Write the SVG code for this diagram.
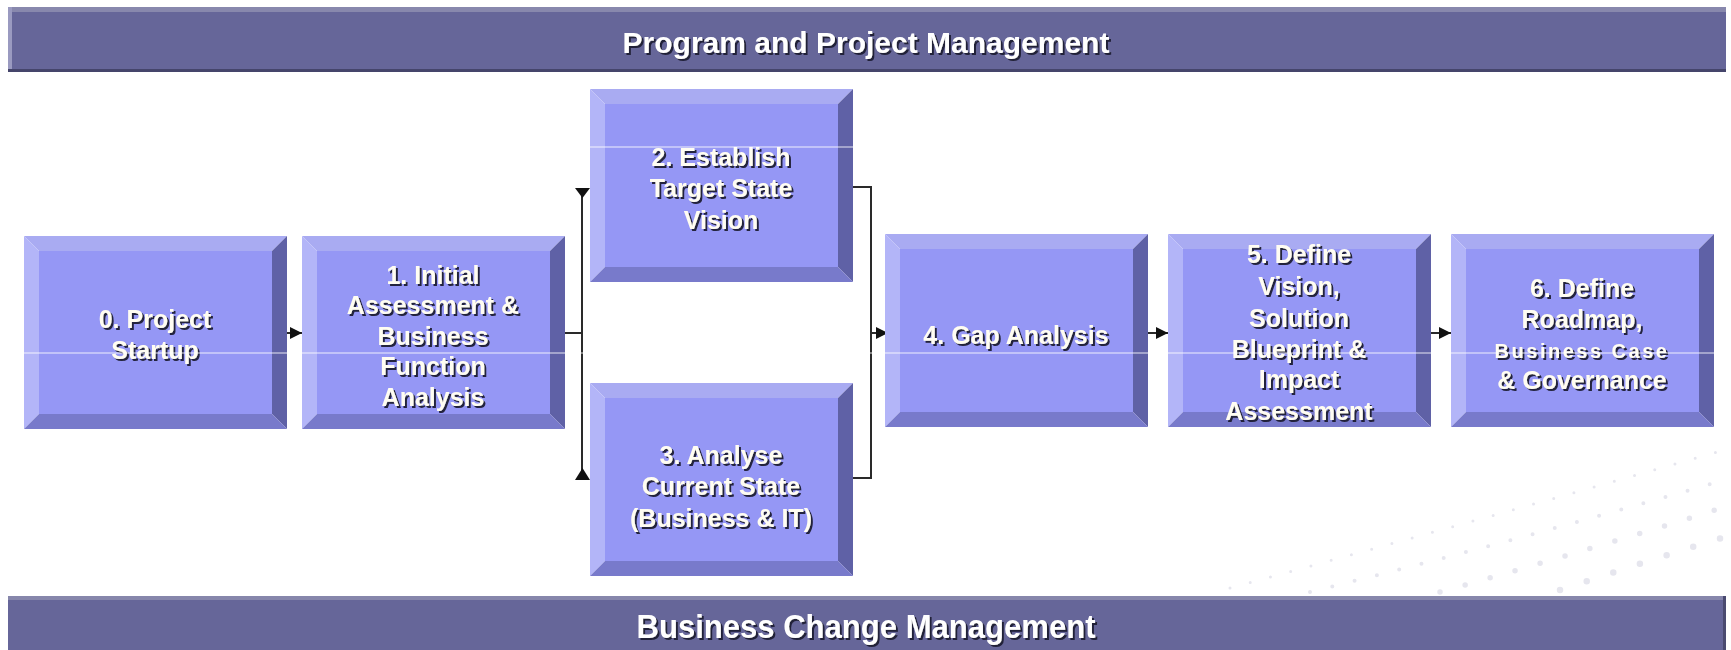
<svg xmlns="http://www.w3.org/2000/svg" xmlns:xlink="http://www.w3.org/1999/xlink" width="1731" height="650" viewBox="0 0 1731 650">
<style>
.lbl{font-family:"Liberation Sans",Arial,sans-serif;font-weight:bold;font-size:25px;fill:#fffdf2;text-anchor:middle;filter:url(#sh)}
.ban{font-family:"Liberation Sans",Arial,sans-serif;font-weight:bold;fill:#ffffff;text-anchor:middle;filter:url(#sh)}
.con{fill:none;stroke:#2a2a2a;stroke-width:2}
.dots{fill:none;stroke:#e6e6ee;stroke-linecap:round}
</style>
<defs>
<filter id="sh" x="-10%" y="-30%" width="120%" height="160%">
<feDropShadow dx="2" dy="2" stdDeviation="0.6" flood-color="#1a1a33" flood-opacity="0.95"/>
</filter>
<marker id="arr" viewBox="0 0 10 10" refX="10" refY="5" markerWidth="13" markerHeight="12" markerUnits="userSpaceOnUse" orient="auto">
<path d="M0,0 L10,5 L0,10 z" fill="#111"/>
</marker>
<g id="bevel">
<rect x="15" y="15" width="233" height="163" fill="#9597f5"/>
<polygon points="0,0 263,0 248,15 15,15" fill="#a9abf2"/>
<polygon points="0,0 15,15 15,178 0,193" fill="#b3b5f8"/>
<polygon points="263,0 263,193 248,178 248,15" fill="#5f61a6"/>
<polygon points="0,193 263,193 248,178 15,178" fill="#787acb"/>
</g>
</defs>
<rect width="1731" height="650" fill="#ffffff"/>
<g id="background-dots">
<path class="dots" d="M1230,588 Q1480,520 1731,448" stroke-width="3" stroke-dasharray="0 21"/>
<path class="dots" d="M1310,592 Q1520,540 1731,478" stroke-width="4" stroke-dasharray="0 23"/>
<path class="dots" d="M1440,592 Q1590,550 1731,505" stroke-width="5.5" stroke-dasharray="0 26"/>
<path class="dots" d="M1560,590 Q1650,560 1731,535" stroke-width="6.5" stroke-dasharray="0 28"/>
</g>
<g id="banner-top">
<rect x="8" y="7" width="1718" height="65" fill="#666699"/>
<rect x="8" y="7" width="1718" height="5" fill="#8888ad"/>
<rect x="8" y="7" width="4" height="65" fill="#9a9ac0"/>
<rect x="8" y="69" width="1718" height="3" fill="#45456b"/>
<text class="ban" x="866" y="53" font-size="30">Program and Project Management</text>
</g>
<g id="banner-bottom">
<rect x="8" y="596" width="1718" height="54" fill="#666699"/>
<rect x="8" y="596" width="1718" height="4" fill="#8686ab"/>
<rect x="1723" y="596" width="3" height="54" fill="#4a4a70"/>
<text class="ban" x="866" y="638" font-size="33" textLength="459" lengthAdjust="spacingAndGlyphs">Business Change Management</text>
</g>
<g id="connectors">
<path class="con" d="M287,333 H302" marker-end="url(#arr)"/>
<path class="con" d="M565,333 H582"/>
<path class="con" d="M582,190 V478"/>
<polygon points="575,188 590,188 582.5,198" fill="#111"/>
<polygon points="575,480 590,480 582.5,468" fill="#111"/>
<path class="con" d="M853,187 H871 V478 H853"/>
<path class="con" d="M871,333 H888" marker-end="url(#arr)"/>
<path class="con" d="M1148,333 H1168" marker-end="url(#arr)"/>
<path class="con" d="M1431,333 H1451" marker-end="url(#arr)"/>
</g>
<g id="node0">
<use xlink:href="#bevel" x="24" y="236"/>
<text class="lbl"><tspan x="155" y="328">0. Project</tspan><tspan x="155" y="359">Startup</tspan></text>
</g>
<g id="node1">
<use xlink:href="#bevel" x="302" y="236"/>
<text class="lbl"><tspan x="433" y="284">1. Initial</tspan><tspan x="433" y="314">Assessment &amp;</tspan><tspan x="433" y="345">Business</tspan><tspan x="433" y="375">Function</tspan><tspan x="433" y="406">Analysis</tspan></text>
</g>
<g id="node2">
<use xlink:href="#bevel" x="590" y="89"/>
<text class="lbl"><tspan x="721" y="166">2. Establish</tspan><tspan x="721" y="197">Target State</tspan><tspan x="721" y="229">Vision</tspan></text>
</g>
<g id="node3">
<use xlink:href="#bevel" x="590" y="383"/>
<text class="lbl"><tspan x="721" y="464">3. Analyse</tspan><tspan x="721" y="495">Current State</tspan><tspan x="721" y="527">(Business &amp; IT)</tspan></text>
</g>
<g id="node4">
<use xlink:href="#bevel" x="885" y="234"/>
<text class="lbl" x="1016" y="344">4. Gap Analysis</text>
</g>
<g id="node5">
<use xlink:href="#bevel" x="1168" y="234"/>
<text class="lbl"><tspan x="1299" y="263">5. Define</tspan><tspan x="1299" y="295">Vision,</tspan><tspan x="1299" y="327">Solution</tspan><tspan x="1299" y="358">Blueprint &amp;</tspan><tspan x="1299" y="388">Impact</tspan><tspan x="1299" y="420">Assessment</tspan></text>
</g>
<g id="node6">
<use xlink:href="#bevel" x="1451" y="234"/>
<text class="lbl"><tspan x="1582" y="297">6. Define</tspan><tspan x="1582" y="328">Roadmap,</tspan><tspan x="1582" y="358" font-size="20" letter-spacing="2.5">Business Case</tspan><tspan x="1582" y="389">&amp; Governance</tspan></text>
</g>
<g id="scan-lines" stroke="#ffffff" stroke-width="1" opacity="0.85">
<line x1="590" y1="147" x2="853" y2="147"/>
<line x1="0" y1="353" x2="1731" y2="353"/>
</g>
</svg>
